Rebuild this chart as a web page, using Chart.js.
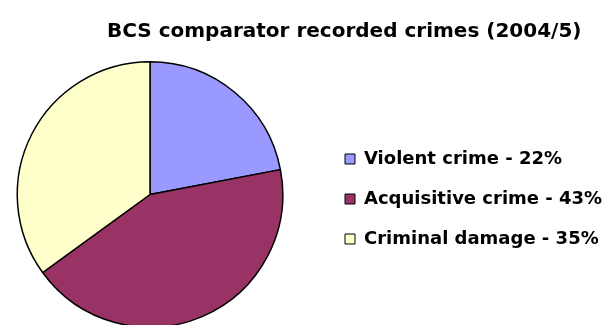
<!DOCTYPE html>
<html>
<head>
<meta charset="utf-8">
<title>BCS comparator recorded crimes (2004/5)</title>
<script src="https://cdn.jsdelivr.net/npm/chart.js@4.4.1/dist/chart.umd.min.js"></script>
<style>
html, body { margin: 0; padding: 0; background: #fff; overflow: hidden; }
/* canvas pushed left a little so the pie can sit nearer the edge than the legend allows */
canvas { display: block; margin-left: -23px; }
</style>
</head>
<body>
<canvas id="pie" width="639" height="330"></canvas>
<script>
const chartTitle = 'BCS comparator recorded crimes (2004/5)';
const categories = ['Violent crime', 'Acquisitive crime', 'Criminal damage'];
const shares = [22, 43, 35];
const sliceColours = ['#9999ff', '#993366', '#ffffcc'];

const fontFamily = '"DejaVu Sans", Verdana, sans-serif';

// title is not centred on the canvas, so it is drawn here
const topTitle = {
    id: 'topTitle',
    afterDraw(chart) {
        const ctx = chart.ctx;
        ctx.save();
        ctx.font = 'bold 20px ' + fontFamily;
        ctx.fillStyle = '#000';
        ctx.textAlign = 'left';
        ctx.textBaseline = 'alphabetic';
        ctx.fillText(chartTitle, 130, 37);
        ctx.restore();
    }
};

Chart.defaults.font.family = fontFamily;
Chart.defaults.color = '#000';

const pie = new Chart(document.getElementById('pie'), {
    type: 'pie',
    data: {
        labels: categories,
        datasets: [{
            data: shares,
            backgroundColor: sliceColours,
            borderColor: '#000',
            borderWidth: 1.5,
            hoverOffset: 0
        }]
    },
    options: {
        responsive: false,
        animation: false,
        events: [],
        layout: {
            padding: { left: 0, right: 13, top: 61, bottom: 2 }
        },
        plugins: {
            title: { display: false },
            tooltip: { enabled: false },
            legend: {
                position: 'right',
                align: 'center',
                maxWidth: 280,
                // empty title only nudges the items down a few px
                title: {
                    display: true,
                    text: '',
                    font: { size: 9, lineHeight: 1 },
                    padding: 0
                },
                labels: {
                    boxWidth: 10,
                    boxHeight: 10,
                    padding: 22,
                    font: { size: 18, weight: 'bold' },
                    generateLabels: () => categories.map((c, i) => ({
                        text: c + ' - ' + shares[i] + '%',
                        fillStyle: sliceColours[i],
                        strokeStyle: '#000',
                        lineWidth: 1,
                        hidden: false,
                        index: i
                    }))
                }
            }
        }
    },
    plugins: [topTitle]
});
</script>
</body>
</html>
